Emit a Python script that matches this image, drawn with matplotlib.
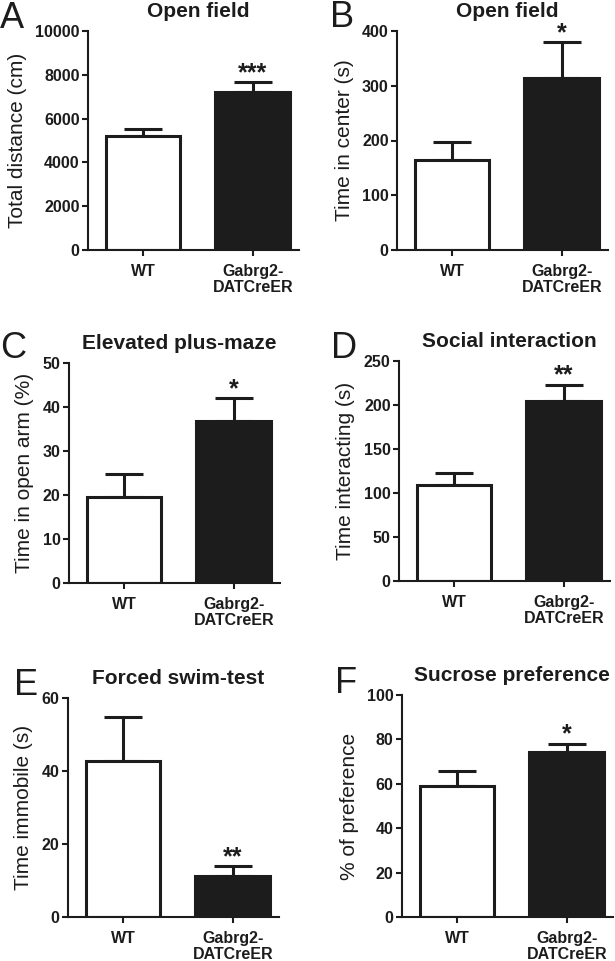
# EXT
import matplotlib
matplotlib.use("Agg")
import matplotlib.pyplot as plt

# GLOBALS
GROUPS = ["WT", "Gabrg2-\nDATCreER"]
LETTERS = ["A", "B", "C", "D", "E", "F"]
TITLES = ["Open field", "Open field", "Elevated plus-maze", "Social interaction",
          "Forced swim-test", "Sucrose preference"]
YLABELS = ["Total distance (cm)", "Time in center (s)", "Time in open arm (%)",
           "Time interacting (s)", "Time immobile (s)", "% of preference"]
WT_MEAN = [5200, 164, 19.6, 109, 42.7, 59.0]
WT_SEM = [325, 33, 5.2, 14, 12.1, 6.8]
KO_MEAN = [7200, 314, 36.8, 205, 11.2, 74.3]
KO_SEM = [450, 66, 5.2, 18, 2.8, 3.7]
YMAX = [10000, 400, 50, 250, 60, 100]
YSTEP = [2000, 100, 10, 50, 20, 20]
STARS = ["***", "*", "*", "**", "**", "*"]

W, H = 615, 961
INK = "#1c1c1c"

# axes boxes in pixels: left, right, top, bottom
BOXES = [(88, 299, 31, 250), (397, 608, 31, 250),
         (69, 280, 363, 583), (399, 610, 361, 581),
         (68, 279, 698, 917), (402, 613, 695, 917)]
# panel letter positions in pixels: x, baseline
LETTER_POS = [(0, 28), (330, 27), (0, 358), (331, 358), (14, 695), (335, 693)]

plt.rcParams["font.family"] = ["Liberation Sans", "DejaVu Sans"]
plt.rcParams["text.color"] = INK
plt.rcParams["axes.labelcolor"] = INK
plt.rcParams["xtick.color"] = INK
plt.rcParams["ytick.color"] = INK


def draw_panel(fig, i):
    left, right, top, bottom = BOXES[i]
    ax = fig.add_axes([left / W, 1 - bottom / H, (right - left) / W, (bottom - top) / H])

    means = [WT_MEAN[i], KO_MEAN[i]]
    sems = [WT_SEM[i], KO_SEM[i]]
    x = [0, 1]
    ax.bar(x, means, width=0.68, color=["white", INK], edgecolor=INK, linewidth=2.2, zorder=2)
    ax.errorbar(x, means, yerr=[[0, 0], sems], fmt="none", ecolor=INK,
                elinewidth=2.2, capsize=14, capthick=2.2, zorder=1)

    ax.set_xlim(-0.5, 1.42)
    ax.set_ylim(0, YMAX[i])
    ax.set_yticks(range(0, YMAX[i] + 1, YSTEP[i]))
    ax.set_xticks(x)
    ax.set_xticklabels(GROUPS, fontsize=11.5, fontweight="bold", linespacing=1.1)
    for lab in ax.get_yticklabels():
        lab.set_fontsize(11.5)
        lab.set_fontweight("bold")

    for side in ["top", "right"]:
        ax.spines[side].set_visible(False)
    for side in ["left", "bottom"]:
        ax.spines[side].set_linewidth(1.5)
        ax.spines[side].set_color(INK)
    ax.tick_params(axis="both", direction="out", length=4, width=1.5)
    ax.tick_params(axis="y", pad=2)
    ax.tick_params(axis="x", pad=6)

    ax.set_ylabel(YLABELS[i], fontsize=15, labelpad=6)

    # title centred between the bars
    ax.annotate(TITLES[i], xy=(0.5, 1), xycoords=("data", "axes fraction"),
                xytext=(0, 10), textcoords="offset points",
                ha="center", va="baseline", fontsize=15, fontweight="bold")

    # significance stars above the KO error bar
    ax.annotate(STARS[i], xy=(1, KO_MEAN[i] + KO_SEM[i]), xytext=(0, 1.5),
                textcoords="offset points", ha="center", va="baseline",
                fontsize=18, fontweight="bold", annotation_clip=False)

    lx, ly = LETTER_POS[i]
    fig.text(lx / W, 1 - ly / H, LETTERS[i], fontsize=26, ha="left", va="baseline")


if __name__ == "__main__":
    fig = plt.figure(figsize=(W / 100, H / 100), dpi=100)
    for i in range(len(LETTERS)):
        draw_panel(fig, i)
    fig.savefig("out.png", dpi=100, facecolor="white")
